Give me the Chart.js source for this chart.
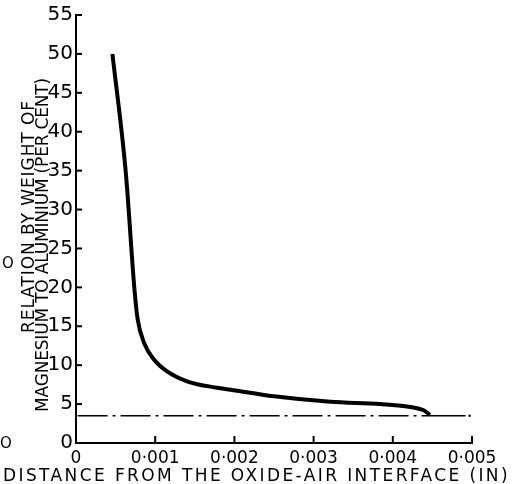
<!DOCTYPE html>
<html>
<head>
<meta charset="utf-8">
<script src="https://cdn.jsdelivr.net/npm/chart.js@4/dist/chart.umd.min.js"></script>
<style>
  html, body { margin: 0; padding: 0; background: #fff; }
  #wrap { width: 518px; height: 484px; }
</style>
</head>
<body>
<div id="wrap"><canvas id="chart" width="518" height="484"></canvas></div>
<script>
// distance from the oxide-air interface (in)
const distance = [0.00046, 0.00063, 0.00074, 0.00078, 0.00086, 0.000987, 0.00115, 0.00141, 0.00178, 0.00195, 0.0025, 0.00321, 0.00384, 0.00418, 0.00439, 0.00447];
// Mg/Al ratio by weight (per cent)
const ratio = [50, 34.6, 19.5, 15.8, 12.85, 10.7, 9.2, 7.9, 7.1, 6.85, 6.0, 5.3, 5.0, 4.7, 4.2, 3.6];

// reference level (dash-dot) and its solid tail
const refLevel = 3.5;
const refDashed = [0.00002, 0.00447];
const refSolid = [0.00447, 0.00492];
const refDot = [0.00497];

const xTicks = [0, 0.001, 0.002, 0.003, 0.004, 0.005];
const yTicks = [0, 5, 10, 15, 20, 25, 30, 35, 40, 45, 50, 55];

const yTitle = ['RELATION BY WEIGHT OF', 'MAGNESIUM TO ALUMINIUM (PER CENT)'];
const xTitle = 'DISTANCE FROM THE OXIDE-AIR INTERFACE (IN)';

const ink = '#000';
const fontFamily = '"DejaVu Sans", sans-serif';

function tickLabel(v) {
  if (v === 0) return '0';
  return v.toFixed(3).replace('.', '·');
}

function fitText(ctx, text, x, y, width) {
  ctx.letterSpacing = '0px';
  const w = ctx.measureText(text).width;
  const n = [...text].length;
  ctx.letterSpacing = ((width - w) / n) + 'px';
  ctx.fillText(text, x, y);
  ctx.letterSpacing = '0px';
}

const decor = {
  id: 'decor',
  afterDraw(chart) {
    const ctx = chart.ctx;
    const xs = chart.scales.x;
    const ys = chart.scales.y;
    const area = chart.chartArea;
    ctx.save();
    ctx.strokeStyle = ink;
    ctx.lineWidth = 2;
    // inward tick marks
    xTicks.forEach((v) => {
      const px = xs.getPixelForValue(v);
      ctx.beginPath();
      ctx.moveTo(px, area.bottom);
      ctx.lineTo(px, area.bottom - 7);
      ctx.stroke();
    });
    yTicks.forEach((v) => {
      const py = ys.getPixelForValue(v);
      ctx.beginPath();
      ctx.moveTo(area.left, py);
      ctx.lineTo(area.left + 6, py);
      ctx.stroke();
    });

    ctx.fillStyle = ink;
    ctx.textAlign = 'left';
    ctx.textBaseline = 'alphabetic';

    // x axis title
    ctx.font = '17px ' + fontFamily;
    fitText(ctx, xTitle, 3, 481, 507);

    // y axis title, two rotated lines
    ctx.save();
    ctx.translate(34, 333);
    ctx.rotate(-Math.PI / 2);
    fitText(ctx, yTitle[0], 0, 0, 233);
    ctx.restore();
    ctx.save();
    ctx.translate(48, 412);
    ctx.rotate(-Math.PI / 2);
    fitText(ctx, yTitle[1], 0, 0, 334);
    ctx.restore();

    // cut-off letters at the left edge of the scan
    ctx.font = '15px ' + fontFamily;
    ctx.fillText('O', 2, 268);
    ctx.fillText('O', 0, 448);
    ctx.restore();
  }
};

new Chart(document.getElementById('chart'), {
  type: 'line',
  data: {
    datasets: [
      {
        label: 'ratio',
        data: distance.map((x, i) => ({ x, y: ratio[i] })),
        borderColor: ink,
        borderWidth: 4,
        pointRadius: 0,
        cubicInterpolationMode: 'monotone',
        borderCapStyle: 'butt',
      },
      {
        label: 'ref dashed',
        data: refDashed.map((x) => ({ x, y: refLevel })),
        borderColor: ink,
        borderWidth: 1.6,
        borderDash: [30, 5, 3, 5],
        pointRadius: 0,
      },
      {
        label: 'ref solid',
        data: refSolid.map((x) => ({ x, y: refLevel })),
        borderColor: ink,
        borderWidth: 1.6,
        pointRadius: 0,
      },
      {
        label: 'ref dot',
        data: refDot.map((x) => ({ x, y: refLevel })),
        showLine: false,
        pointRadius: 1.2,
        pointBackgroundColor: ink,
        pointBorderWidth: 0,
      },
    ],
  },
  options: {
    responsive: false,
    animation: false,
    layout: { padding: { top: 14, right: 46, left: 0, bottom: 0 } },
    plugins: {
      legend: { display: false },
      tooltip: { enabled: false },
    },
    scales: {
      x: {
        type: 'linear',
        min: 0,
        max: 0.005,
        afterBuildTicks: (scale) => { scale.ticks = xTicks.map((v) => ({ value: v })); },
        ticks: {
          callback: tickLabel,
          color: ink,
          font: { family: fontFamily, size: 17 },
          padding: 5,
          maxRotation: 0,
        },
        grid: { drawOnChartArea: false, drawTicks: false },
        border: { display: true, color: ink, width: 2 },
        afterFit: (scale) => { scale.height = 41; },
      },
      y: {
        min: 0,
        max: 55,
        afterBuildTicks: (scale) => { scale.ticks = yTicks.map((v) => ({ value: v })); },
        ticks: {
          color: ink,
          font: { family: fontFamily, size: 20 },
          padding: 3,
        },
        grid: { drawOnChartArea: false, drawTicks: false },
        border: { display: true, color: ink, width: 2 },
        afterFit: (scale) => { scale.width = 76; },
      },
    },
  },
  plugins: [decor],
});
</script>
</body>
</html>
